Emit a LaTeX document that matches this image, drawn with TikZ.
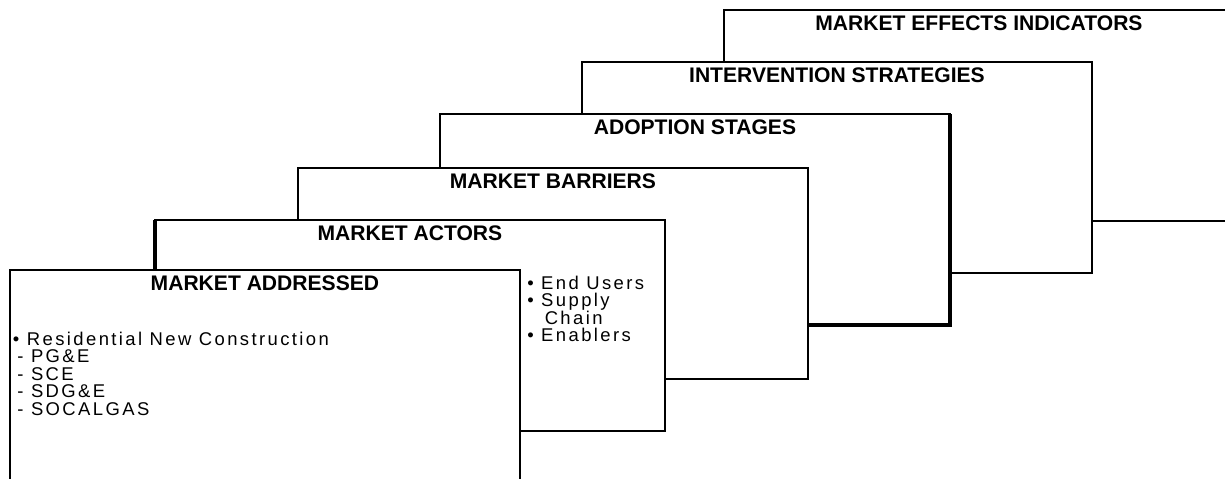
\documentclass[tikz,border=0pt]{standalone}
\usepackage{fontspec}
\setmainfont{Liberation Sans}
\newfontfamily\listfont[LetterSpace=13]{Liberation Sans}
\usetikzlibrary{positioning}

\tikzset{
  panel/.style={draw, fill=white, line width=1.1pt, anchor=north west,
    inner sep=0pt, outer sep=0pt, minimum width=10.2cm, minimum height=4.22cm},
  heading/.style={font=\bfseries\fontsize{12}{14}\selectfont, inner sep=0pt},
  listing/.style={font=\listfont\fontsize{10.5}{10}\selectfont, align=left, inner sep=0pt},
  heavy/.style={line width=2.4pt}
}

\begin{document}
\begin{tikzpicture}[x=0.02cm,y=-0.02cm]
  \useasboundingbox (0,0) rectangle (1225,478);
  \clip (0,0) rectangle (1225,478);

  % panels, back to front
  \node[panel] (effects) at (724,10) {};
  \node[heading, below=3pt of effects.north] (effectsT) {MARKET EFFECTS INDICATORS};

  \node[panel] (strategies) at (582,62) {};
  \node[heading, below=3pt of strategies.north] (strategiesT) {INTERVENTION STRATEGIES};

  \node[panel] (adoption) at (440,114) {};
  \draw[heavy] (adoption.north east) -- (adoption.south east) -- (adoption.south west);
  \node[heading, below=3pt of adoption.north] (adoptionT) {ADOPTION STAGES};

  \node[panel] (barriers) at (298,168) {};
  \node[heading, below=3pt of barriers.north] (barriersT) {MARKET BARRIERS};

  \node[panel] (actors) at (155,220) {};
  \draw[heavy] (actors.north west) -- (actors.south west);
  \node[heading, below=3pt of actors.north] (actorsT) {MARKET ACTORS};

  \node[panel] (addressed) at (10,270) {};
  \node[heading, below=3pt of addressed.north] (addressedT) {MARKET ADDRESSED};

  % lists
  \node[listing, anchor=north west, below right=35pt and 1.5pt of addressed.north west] (markets)
    {\textbullet\ Residential New Construction\\
     \hspace*{2.5pt}- PG\&E\\
     \hspace*{2.5pt}- SCE\\
     \hspace*{2.5pt}- SDG\&E\\
     \hspace*{2.5pt}- SOCALGAS};
  \node[listing, anchor=north west, below right=3pt and 4pt of addressed.north east] (actorlist)
    {\textbullet\ End Users\\
     \textbullet\ Supply\\
     \phantom{\textbullet}\ \hspace*{2pt}Chain\\
     \textbullet\ Enablers};
\end{tikzpicture}
\end{document}
